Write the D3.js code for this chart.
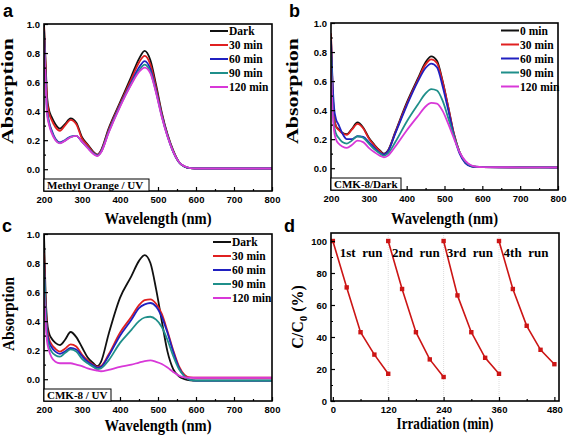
<!DOCTYPE html>
<html><head><meta charset="utf-8">
<script src="https://cdn.jsdelivr.net/npm/d3@7"></script>
<style>
body{margin:0;background:#fff}
svg{display:block}
text{font-family:"Liberation Serif","Times New Roman",serif;font-weight:bold;fill:#000}
.tick text{font-family:"Liberation Sans",Arial,sans-serif;font-weight:bold;font-size:9.5px}
</style>
</head><body><svg width="567" height="436"></svg>
<script>
// ---------- DATA ----------
const wavelengths = [200,204,208,213,220,230,242,255,270,285,300,315,330,340,350,370,400,430,450,465,480,495,510,525,540,555,570,585,600,700,800];

const seriesNamesA = ["Dark","30 min","60 min","90 min","120 min"];
const seriesNamesB = ["0 min","30 min","60 min","90 min","120 min"];
const seriesNamesC = ["Dark","30 min","60 min","90 min","120 min"];
const seriesColors = ["#111111","#e02020","#2020c0","#1f8f8a","#d838d8"];

const aDark = [1.00,0.75,0.50,0.41,0.36,0.31,0.28,0.31,0.35,0.32,0.22,0.17,0.12,0.10,0.13,0.28,0.46,0.64,0.76,0.815,0.75,0.58,0.39,0.24,0.13,0.05,0.018,0.007,0.005,0.005,0.005];
const aMin30 = [0.98,0.72,0.48,0.39,0.34,0.29,0.265,0.30,0.34,0.31,0.21,0.165,0.115,0.10,0.125,0.27,0.45,0.62,0.735,0.78,0.72,0.56,0.38,0.235,0.125,0.05,0.018,0.007,0.005,0.005,0.005];
const aMin60 = [0.95,0.65,0.42,0.33,0.27,0.21,0.185,0.20,0.225,0.23,0.19,0.15,0.11,0.095,0.12,0.26,0.44,0.60,0.70,0.745,0.69,0.54,0.37,0.23,0.12,0.048,0.018,0.007,0.005,0.005,0.005];
const aMin90 = [0.93,0.62,0.40,0.32,0.26,0.205,0.18,0.197,0.222,0.23,0.19,0.148,0.108,0.093,0.118,0.255,0.435,0.59,0.68,0.72,0.67,0.53,0.365,0.228,0.12,0.049,0.019,0.008,0.005,0.005,0.005];
const aMin120 = [0.90,0.60,0.38,0.31,0.25,0.20,0.178,0.195,0.22,0.23,0.19,0.145,0.105,0.09,0.115,0.25,0.43,0.585,0.67,0.70,0.66,0.525,0.36,0.225,0.12,0.05,0.02,0.008,0.005,0.005,0.005];

const bMin0 = [0.90,0.55,0.36,0.29,0.27,0.245,0.235,0.27,0.315,0.28,0.21,0.16,0.12,0.10,0.12,0.25,0.45,0.62,0.73,0.77,0.74,0.60,0.42,0.235,0.11,0.04,0.015,0.009,0.008,0.006,0.005];
const bMin30 = [0.93,0.56,0.36,0.29,0.265,0.24,0.23,0.265,0.305,0.275,0.205,0.155,0.115,0.095,0.115,0.245,0.44,0.61,0.715,0.75,0.725,0.595,0.42,0.235,0.11,0.04,0.015,0.009,0.008,0.006,0.005];
const bMin60 = [0.88,0.60,0.42,0.34,0.30,0.24,0.20,0.20,0.22,0.215,0.18,0.14,0.105,0.095,0.115,0.24,0.43,0.60,0.69,0.72,0.695,0.565,0.40,0.225,0.10,0.035,0.013,0.008,0.007,0.006,0.005];
const bMin90 = [0.80,0.45,0.30,0.24,0.21,0.18,0.17,0.19,0.22,0.21,0.17,0.13,0.10,0.085,0.10,0.18,0.32,0.44,0.515,0.545,0.535,0.465,0.345,0.22,0.11,0.045,0.018,0.01,0.008,0.006,0.005];
const bMin120 = [0.70,0.40,0.26,0.20,0.17,0.15,0.14,0.16,0.19,0.18,0.14,0.11,0.085,0.075,0.085,0.15,0.26,0.36,0.425,0.45,0.445,0.395,0.305,0.205,0.11,0.05,0.02,0.01,0.008,0.006,0.005];

const cDark = [1.00,0.60,0.40,0.32,0.28,0.25,0.235,0.27,0.325,0.29,0.22,0.15,0.11,0.09,0.12,0.31,0.56,0.71,0.815,0.855,0.80,0.62,0.40,0.19,0.07,0.02,0.0,-0.008,-0.01,-0.01,-0.01];
const cMin30 = [0.87,0.55,0.36,0.28,0.24,0.21,0.19,0.21,0.24,0.225,0.17,0.13,0.10,0.085,0.09,0.17,0.32,0.43,0.51,0.545,0.55,0.52,0.45,0.33,0.20,0.09,0.03,0.012,0.01,0.01,0.01];
const cMin60 = [0.80,0.50,0.33,0.26,0.22,0.19,0.175,0.19,0.215,0.205,0.16,0.12,0.095,0.08,0.085,0.16,0.30,0.41,0.49,0.515,0.525,0.50,0.43,0.32,0.19,0.08,0.02,-0.005,-0.01,-0.01,-0.01];
const cMin90 = [0.77,0.48,0.30,0.23,0.19,0.165,0.155,0.18,0.205,0.19,0.14,0.11,0.085,0.07,0.075,0.13,0.25,0.34,0.40,0.425,0.43,0.41,0.36,0.27,0.16,0.07,0.02,-0.005,-0.01,-0.01,-0.01];
const cMin120 = [0.60,0.40,0.26,0.20,0.15,0.12,0.11,0.11,0.11,0.10,0.09,0.075,0.065,0.06,0.055,0.065,0.085,0.10,0.115,0.125,0.13,0.12,0.105,0.08,0.05,0.025,0.012,0.01,0.01,0.01,0.01];

const runTimes1 = [0,30,60,90,120];
const runTimes2 = [120,150,180,210,240];
const runTimes3 = [240,270,300,330,360];
const runTimes4 = [360,390,420,450,480];
const runValues1 = [100,71,43,29,17];
const runValues2 = [100,70,43,26,15];
const runValues3 = [100,66,43,27,17];
const runValues4 = [100,70,47,32,23];
const runLabels = ["1st  run","2nd  run","3rd  run","4th  run"];
const runLabelX = [15,128,247,370];

const specXTicks = [200,300,400,500,600,700,800];
const specXMinor = [250,350,450,550,650,750];
const specYTicks = [0,0.2,0.4,0.6,0.8,1.0];
const specYMinor = [-0.1,0.1,0.3,0.5,0.7,0.9];
const dXTicks = [0,120,240,360,480];
const dXMinor = [60,180,300,420];
const dYTicks = [0,20,40,60,80,100];
const dYMinor = [10,30,50,70,90];

// ---------- DRAW ----------
const svg = d3.select("svg");
let clipId = 0;

function axes(g, x, y, xt, xm, yt, ym, yfmt) {
  const [x0,x1] = x.range(), [y1,y0] = y.range();
  const ax = g.append("g").attr("transform",`translate(0,${y1})`)
    .call(d3.axisBottom(x).tickValues(xt).tickSize(-4).tickPadding(5).tickFormat(d3.format("d")));
  const axm = g.append("g").attr("transform",`translate(0,${y1})`)
    .call(d3.axisBottom(x).tickValues(xm).tickSize(-2).tickFormat(""));
  const ay = g.append("g").attr("transform",`translate(${x0},0)`)
    .call(d3.axisLeft(y).tickValues(yt).tickSize(-4).tickPadding(4).tickFormat(yfmt));
  const aym = g.append("g").attr("transform",`translate(${x0},0)`)
    .call(d3.axisLeft(y).tickValues(ym).tickSize(-2).tickFormat(""));
  [ax,axm,ay,aym].forEach(a=>{a.select(".domain").remove(); a.selectAll("line").attr("stroke","#000").attr("stroke-width",1.2);});
}

function frame(g, x, y) {
  const [x0,x1] = x.range(), [y1,y0] = y.range();
  g.append("rect").attr("x",x0).attr("y",y0).attr("width",x1-x0).attr("height",y1-y0)
    .attr("fill","none").attr("stroke","#000").attr("stroke-width",1.6);
}

function spectrum(cfg) {
  const g = svg.append("g");
  const x = d3.scaleLinear().domain([200,800]).range([cfg.x0,cfg.x1]);
  const y = d3.scaleLinear().domain([-0.15,1.0]).range([cfg.y1,cfg.y0]);
  const id = "clip"+(clipId++);
  g.append("clipPath").attr("id",id).append("rect")
    .attr("x",cfg.x0).attr("y",cfg.y0).attr("width",cfg.x1-cfg.x0).attr("height",cfg.y1-cfg.y0);
  const line = d3.line().x((d,i)=>x(wavelengths[i])).y(d=>y(d)).curve(d3.curveMonotoneX);
  const lg = g.append("g").attr("clip-path",`url(#${id})`);
  cfg.series.forEach((s,i)=>{
    lg.append("path").attr("d",line(s)).attr("fill","none")
      .attr("stroke",seriesColors[i]).attr("stroke-width",1.8).attr("stroke-linejoin","round");
  });
  axes(g,x,y,specXTicks,specXMinor,specYTicks,specYMinor,d3.format(".1f"));
  frame(g,x,y);
  // legend
  cfg.names.forEach((n,i)=>{
    const yy = cfg.legY + i*14;
    g.append("line").attr("x1",cfg.legX).attr("x2",cfg.legX+18).attr("y1",yy).attr("y2",yy)
      .attr("stroke",seriesColors[i]).attr("stroke-width",2);
    g.append("text").attr("x",cfg.legX+19).attr("y",yy).attr("dy","0.35em")
      .attr("font-size",11.5).text(n);
  });
  // info box
  g.append("rect").attr("x",cfg.x0).attr("y",cfg.y1-12).attr("width",cfg.boxW).attr("height",12)
    .attr("fill","#fff").attr("stroke","#000").attr("stroke-width",1);
  g.append("text").attr("x",cfg.x0+3).attr("y",cfg.y1-2.5).attr("font-size",11).text(cfg.box);
  // titles
  g.append("text").attr("text-anchor","middle").attr("font-size",16)
    .attr("transform",`translate(${cfg.ytX},${cfg.ytY}) rotate(-90)`)
    .attr("textLength",cfg.ytLen).attr("lengthAdjust","spacingAndGlyphs").text("Absorption");
  g.append("text").attr("text-anchor","middle").attr("font-size",16)
    .attr("x",(cfg.x0+cfg.x1)/2).attr("y",cfg.xtY)
    .attr("textLength",107).attr("lengthAdjust","spacingAndGlyphs").text("Wavelength (nm)");
  svg.append("text").attr("x",cfg.lblX).attr("y",cfg.lblY)
    .style("font-family","'Liberation Sans',Arial,sans-serif").attr("font-size",18).text(cfg.label);
}

spectrum({x0:44,x1:272,y0:24,y1:191,series:[aDark,aMin30,aMin60,aMin90,aMin120],names:seriesNamesA,
  legX:210,legY:31,box:"Methyl Orange / UV",boxW:105,ytX:13,ytY:91,ytLen:106,xtY:224,label:"a",lblX:3,lblY:17});
spectrum({x0:331,x1:558,y0:23,y1:190,series:[bMin0,bMin30,bMin60,bMin90,bMin120],names:seriesNamesB,
  legX:501,legY:30.5,box:"CMK-8/Dark",boxW:70,ytX:298,ytY:91,ytLen:106,xtY:224,label:"b",lblX:289,lblY:17});
spectrum({x0:44,x1:272,y0:234,y1:401,series:[cDark,cMin30,cMin60,cMin90,cMin120],names:seriesNamesC,
  legX:213,legY:242,box:"CMK-8 / UV",boxW:67,ytX:14,ytY:314,ytLen:74,xtY:431,label:"c",lblX:2,lblY:232});

// panel d
(function(){
  const g = svg.append("g");
  const x = d3.scaleLinear().domain([-4,490]).range([331,559]);
  const y = d3.scaleLinear().domain([0,105]).range([401,233]);
  [120,240,360].forEach(t=>{
    g.append("line").attr("x1",x(t)).attr("x2",x(t)).attr("y1",233).attr("y2",401)
      .attr("stroke","#dcdcdc").attr("stroke-width",1).attr("stroke-dasharray","1,1");
  });
  const runsT = [runTimes1,runTimes2,runTimes3,runTimes4];
  const runsV = [runValues1,runValues2,runValues3,runValues4];
  const line = d3.line().x(d=>x(d[0])).y(d=>y(d[1]));
  runsT.forEach((ts,k)=>{
    const pts = ts.map((t,i)=>[t,runsV[k][i]]);
    g.append("path").attr("d",line(pts)).attr("fill","none").attr("stroke","#cc1515").attr("stroke-width",1.6);
    g.selectAll(null).data(pts).enter().append("rect")
      .attr("x",d=>x(d[0])-2.2).attr("y",d=>y(d[1])-2.2).attr("width",4.4).attr("height",4.4)
      .attr("fill","#cc1515");
    g.append("text").attr("x",x(runLabelX[k])).attr("y",257).attr("font-size",13)
      .style("white-space","pre").attr("xml:space","preserve").text(runLabels[k]);
  });
  axes(g,x,y,dXTicks,dXMinor,dYTicks,dYMinor,d3.format("d"));
  frame(g,x,y);
  g.append("text").attr("text-anchor","middle").attr("font-size",16).attr("x",445).attr("y",429)
    .attr("textLength",97).attr("lengthAdjust","spacingAndGlyphs").text("Irradiation (min)");
  const yt = g.append("text").attr("text-anchor","middle").attr("font-size",16)
    .attr("transform","translate(303,317) rotate(-90)");
  yt.append("tspan").text("C/C");
  yt.append("tspan").attr("font-size",11).attr("dy",4).text("0");
  yt.append("tspan").attr("dy",-4).text(" (%)");
  svg.append("text").attr("x",284).attr("y",232)
    .style("font-family","'Liberation Sans',Arial,sans-serif").attr("font-size",18).text("d");
})();
</script></body></html>
